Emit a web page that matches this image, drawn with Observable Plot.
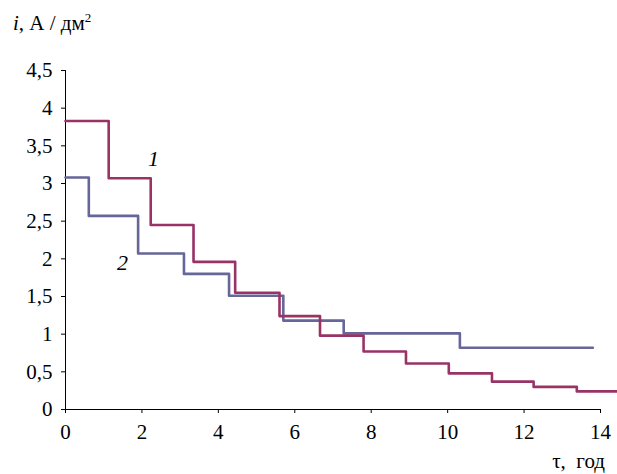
<!DOCTYPE html>
<html><head><meta charset="utf-8">
<script src="https://cdn.jsdelivr.net/npm/d3@7"></script>
<script src="https://cdn.jsdelivr.net/npm/@observablehq/plot@0.6"></script>
<style>body{margin:0;background:#fff;font-size:22px}</style>
</head><body>
<div id="wrap" style="position:relative;width:617px;height:474px">
  <div style="position:absolute;left:13px;top:13px;font-family:'Liberation Serif';font-size:21px;line-height:21px;color:#000;white-space:pre;z-index:2"><i style="font-family:'Liberation Serif'">i</i>, А / дм<sup style="font-family:'Liberation Serif';font-size:13px;vertical-align:8px;line-height:0">2</sup></div>
  <div style="position:absolute;right:12px;top:451px;font-family:'Liberation Serif';font-size:21px;line-height:21px;color:#000;white-space:pre;z-index:2">τ,  год</div>
  <div id="chart" style="position:absolute;left:0;top:0"></div>
</div>
<script>
// Curve 1 (step levels)
const tau1 = [0, 1.13, 2.23, 3.35, 4.44, 5.6, 6.66, 7.8, 8.91, 10.03, 11.16, 12.25, 13.38, 14.45];
const i1   = [3.83, 3.07, 2.45, 1.96, 1.55, 1.24, 0.98, 0.77, 0.61, 0.48, 0.37, 0.30, 0.24, 0.24];
// Curve 2
const tau2 = [0, 0.61, 1.9, 3.1, 4.28, 5.7, 7.28, 10.32, 13.8];
const i2   = [3.08, 2.57, 2.07, 1.80, 1.51, 1.18, 1.01, 0.82, 0.82];
const xTicks = [0, 2, 4, 6, 8, 10, 12, 14];
const yTicks = [0, 0.5, 1, 1.5, 2, 2.5, 3, 3.5, 4, 4.5];
const curveLabels = [{x: 2.3, y: 3.33, t: "1"}, {x: 1.49, y: 1.95, t: "2"}];

const d1 = tau1.map((x, k) => ({x, y: i1[k]}));
const d2 = tau2.map((x, k) => ({x, y: i2[k]}));
const fmt = d => String(d).replace(".", ",");
const serif = "Liberation Serif";

const chart = Plot.plot({
  width: 617, height: 474,
  marginLeft: 65, marginRight: 17, marginTop: 70, marginBottom: 65,
  x: {domain: [0, 14]},
  y: {domain: [0, 4.5]},
  style: {fontFamily: serif, fontSize: "21px", color: "black", overflow: "visible"},
  marks: [
    Plot.ruleX([0], {stroke: "black", strokeWidth: 1}),
    Plot.ruleY([0], {stroke: "black", strokeWidth: 1}),
    Plot.axisX({ticks: xTicks, tickFormat: fmt, tickSize: 4, tickPadding: 11, label: null, fontSize: 21, fontFamily: serif}),
    Plot.axisY({ticks: yTicks, tickFormat: fmt, tickSize: 4, tickPadding: 9, label: null, fontSize: 21, fontFamily: serif}),
    Plot.line(d2, {x: "x", y: "y", curve: "step-after", stroke: "#666699", strokeWidth: 2.6}),
    Plot.line(d1, {x: "x", y: "y", curve: "step-after", stroke: "#993366", strokeWidth: 2.6}),
    Plot.text(curveLabels, {x: "x", y: "y", text: "t", fontStyle: "italic", fontSize: 22, fontFamily: serif})
  ]
});
document.getElementById("chart").appendChild(chart);
</script>
</body></html>
